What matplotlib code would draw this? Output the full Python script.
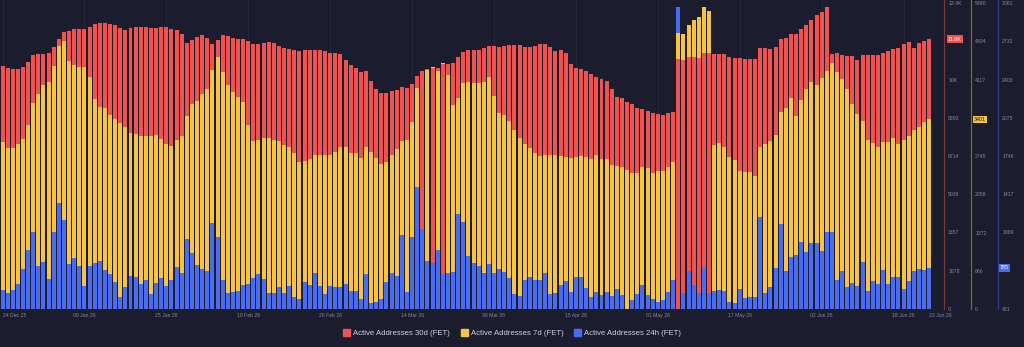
import numpy as np
import pandas as pd
import matplotlib
matplotlib.use("Agg")
import matplotlib.pyplot as plt
import matplotlib.transforms as mtransforms
from matplotlib.patches import Patch

plt.rcParams['font.family'] = ['Liberation Sans', 'DejaVu Sans']

dates = pd.date_range('2025-12-24', '2026-06-23', freq='D')

# Active Addresses 30d (FET)
red = np.array([
    10665, 10577, 10534, 10534, 10636, 10841, 11148, 11207, 11207, 11221,
    11484, 11865, 12143, 12201, 12274, 12289, 12274, 12392, 12509, 12567,
    12567, 12523, 12479, 12318, 12260, 12333, 12362, 12362, 12362, 12348,
    12318, 12377, 12377, 12304, 12245, 12070, 11689, 11806, 11938, 12026,
    11908, 11616, 11792, 12011, 11967, 11880, 11865, 11836, 11748, 11645,
    11645, 11689, 11704, 11660, 11558, 11470, 11426, 11367, 11338, 11367,
    11353, 11353, 11353, 11323, 11250, 11250, 11192, 10929, 10709, 10563,
    10417, 10460, 10007, 9641, 9495, 9466, 9568, 9612, 9758, 9714,
    9861, 10226, 10446, 10534, 10592, 10563, 10738, 10738, 10782, 11046,
    11265, 11368, 11368, 11368, 11470, 11543, 11543, 11514, 11543, 11587,
    11587, 11587, 11485, 11514, 11558, 11616, 11616, 11514, 11338, 11368,
    11221, 10738, 10592, 10534, 10446, 10330, 10197, 10109, 10022, 9656,
    9319, 9246, 9100, 8983, 8837, 8763, 8705, 8588, 8544, 8530,
    8588, 8646, 10958, 10929, 11046, 11046, 11002, 11221, 11221, 11192,
    11192, 11177, 11075, 11002, 11002, 10973, 10973, 10973, 11441, 11470,
    11397, 11485, 11836, 11909, 12055, 12070, 12275, 12465, 12684, 12904,
    13050, 13269, 11177, 11250, 11148, 11119, 11119, 10929, 11148, 11148,
    11148, 11148, 11221, 11338, 11397, 11470, 11616, 11733, 11470, 11660,
    11777, 11836])

# Active Addresses 7d (FET)
yellow = np.array([
    3002, 2894, 2894, 2960, 3056, 3295, 3690, 3857, 4024, 4072,
    4359, 4718, 4814, 4449, 4377, 4347, 4336, 4156, 3761, 3618,
    3606, 3474, 3403, 3331, 3259, 3163, 3134, 3104, 3110, 3104,
    3128, 3044, 2966, 2930, 3032, 3104, 3462, 3678, 3726, 3851,
    3941, 4282, 4515, 4258, 4019, 3899, 3809, 3714, 3295, 3014,
    3032, 3062, 3068, 3026, 3008, 2948, 2906, 2793, 2631, 2661,
    2685, 2757, 2769, 2757, 2769, 2817, 2912, 2912, 2793, 2793,
    2715, 2906, 2817, 2715, 2595, 2643, 2757, 2876, 3014, 3032,
    3349, 3971, 4276, 4288, 4347, 4270, 4407, 4198, 3660, 3791,
    4048, 4078, 4048, 4048, 4078, 4156, 3827, 3522, 3480, 3373,
    3211, 3074, 2954, 2882, 2805, 2751, 2763, 2763, 2763, 2745,
    2721, 2703, 2733, 2751, 2733, 2700, 2763, 2685, 2685, 2583,
    2571, 2553, 2494, 2446, 2446, 2542, 2524, 2434, 2482, 2482,
    2553, 2643, 4945, 4928, 5095, 5185, 5233, 5424, 5346, 2942,
    2972, 2912, 2733, 2673, 2482, 2464, 2464, 2392, 2912, 2960,
    3020, 3122, 3540, 3612, 3779, 3462, 3749, 3941, 4078, 4019,
    4138, 4276, 4407, 4258, 4126, 3941, 3678, 3498, 3379, 3032,
    2984, 2912, 3002, 3002, 3074, 2960, 3032, 3104, 3211, 3271,
    3349, 3401])

# Active Addresses 24h (FET)
blue = np.array([
    594, 566, 594, 646, 772, 938, 1093, 801, 835, 686,
    1096, 1339, 1196, 818, 869, 801, 629, 803, 823, 844,
    766, 732, 666, 537, 617, 715, 703, 646, 680, 560,
    652, 695, 629, 680, 795, 738, 1036, 916, 809, 772,
    758, 1173, 1047, 680, 566, 577, 589, 637, 646, 697,
    732, 686, 566, 571, 617, 566, 629, 537, 514, 663,
    634, 743, 629, 560, 629, 623, 617, 646, 586, 589,
    517, 732, 485, 488, 517, 666, 738, 715, 1067, 580,
    1047, 1477, 1121, 844, 824, 938, 732, 743, 752, 1248,
    1176, 887, 824, 803, 738, 815, 738, 772, 752, 695,
    560, 543, 680, 709, 680, 680, 743, 560, 571, 637,
    672, 574, 709, 709, 609, 534, 574, 551, 574, 543,
    600, 551, 420, 508, 557, 637, 551, 517, 494, 511,
    577, 680, 3024, 566, 760, 637, 571, 786, 571, 586,
    594, 589, 494, 480, 600, 528, 537, 537, 1225, 571,
    617, 781, 1162, 760, 881, 895, 1010, 924, 995, 1001,
    932, 1096, 1096, 680, 760, 617, 652, 629, 832, 589,
    672, 646, 766, 643, 709, 703, 600, 672, 760, 772,
    766, 785])

# axis ranges of the three price scales
RED_MIN, RED_MAX = 0, 13428
YEL_MIN, YEL_MAX = 0, 5490
BLU_MIN, BLU_MAX = 431, 3061

red_ticks = [0, 1678, 3357, 5036, 6714, 8393, 10071, 13428]
red_labels = ['0', '1678', '3357', '5036', '6714', '8393', '10K', '13.4K']
yel_ticks = [0, 686, 1372, 2058, 2745, 4117, 4804, 5490]
yel_labels = ['0', '686', '1372', '2058', '2745', '4117', '4804', '5490']
blu_ticks = [431, 1089, 1417, 1746, 2075, 2403, 2732, 3061]
blu_labels = ['431', '1089', '1417', '1746', '2075', '2403', '2732', '3061']

tick_dates = ['2025-12-24', '2026-01-09', '2026-01-25', '2026-02-10', '2026-02-26',
              '2026-03-14', '2026-03-30', '2026-04-15', '2026-05-01', '2026-05-17',
              '2026-06-02', '2026-06-18', '2026-06-23']

names = ['Active Addresses 30d (FET)', 'Active Addresses 7d (FET)', 'Active Addresses 24h (FET)']
RED_C = '#ef5350'
YEL_C = '#f6c343'
BLU_C = '#4a6cf0'
BG = '#1b1d2e'
TXT = '#868a9c'

fig = plt.figure(figsize=(10.24, 3.47), dpi=100, facecolor=BG)
ax = fig.add_axes([0, 38 / 347, 944 / 1024, 309 / 347])
ax.set_facecolor(BG)

x = np.arange(len(dates))
series = [
    ((red - RED_MIN) / (RED_MAX - RED_MIN), RED_C),
    ((yellow - YEL_MIN) / (YEL_MAX - YEL_MIN), YEL_C),
    ((blue - BLU_MIN) / (BLU_MAX - BLU_MIN), BLU_C),
]
heights = np.vstack([s[0] for s in series])
# taller bar goes behind, shorter bars on top
rank = np.argsort(np.argsort(-heights, axis=0), axis=0)

for k, (h, c) in enumerate(series):
    bars = ax.bar(x, h, width=0.78, color=c, linewidth=0)
    for i, p in enumerate(bars.patches):
        p.set_zorder(2 + rank[k, i])

ax.set_xlim(-0.49, 183.9)
ax.set_ylim(0, 309 / 306)
for s in ax.spines.values():
    s.set_visible(False)
ax.set_yticks([])

tpos = [dates.get_loc(pd.Timestamp(d)) for d in tick_dates]
ax.set_xticks(tpos)
ax.set_xticklabels([dates[p].strftime('%d %b %y') for p in tpos])
ax.tick_params(axis='x', length=0, pad=3, labelsize=3.7, labelcolor=TXT)
xl = ax.get_xticklabels()
xl[0].set_ha('left')
xl[-1].set_ha('left')
for p in tpos[:-1]:
    ax.axvline(p, color='#262a3d', lw=0.6, zorder=1)


def add_scale(loc, lo, hi, ticks, labels, color):
    sec = ax.secondary_yaxis(loc, functions=(lambda y: lo + y * (hi - lo),
                                             lambda v: (v - lo) / (hi - lo)))
    sec.set_yticks(ticks)
    sec.set_yticklabels(labels)
    sec.tick_params(length=0, pad=3, labelsize=3.7, labelcolor=TXT)
    for s in sec.spines.values():
        s.set_color(color)
        s.set_alpha(0.45)
        s.set_linewidth(0.9)
    return sec


add_scale(1.0, RED_MIN, RED_MAX, red_ticks, red_labels, RED_C)
add_scale(971 / 944, YEL_MIN, YEL_MAX, yel_ticks, yel_labels, YEL_C)
add_scale(998 / 944, BLU_MIN, BLU_MAX, blu_ticks, blu_labels, BLU_C)

# current value tags
tr = mtransforms.blended_transform_factory(ax.transAxes, ax.transData)
tags = [
    (948 / 944, series[0][0][-1], '%.1fK' % (red[-1] / 1000), RED_C, 'white'),
    (974 / 944, series[1][0][-1], '%d' % yellow[-1], YEL_C, '#1b1d2e'),
    (1000 / 944, series[2][0][-1], '%d' % blue[-1], BLU_C, 'white'),
]
for tx, ty, label, bc, fc in tags:
    ax.text(tx, ty, label, transform=tr, fontsize=3.9, color=fc, va='center', ha='left',
            clip_on=False, zorder=10,
            bbox=dict(boxstyle='square,pad=0.25', fc=bc, ec='none'))

handles = [Patch(color=c, label=n) for n, c in zip(names, [RED_C, YEL_C, BLU_C])]
leg = fig.legend(handles=handles, loc='center', bbox_to_anchor=(0.5, 14 / 347), ncol=3,
                 frameon=False, fontsize=5.6, handlelength=0.9, handleheight=0.9,
                 handletextpad=0.4, columnspacing=1.4)
for t in leg.get_texts():
    t.set_color('#d1d4dc')

fig.savefig('out.png', dpi=100, facecolor=BG)
